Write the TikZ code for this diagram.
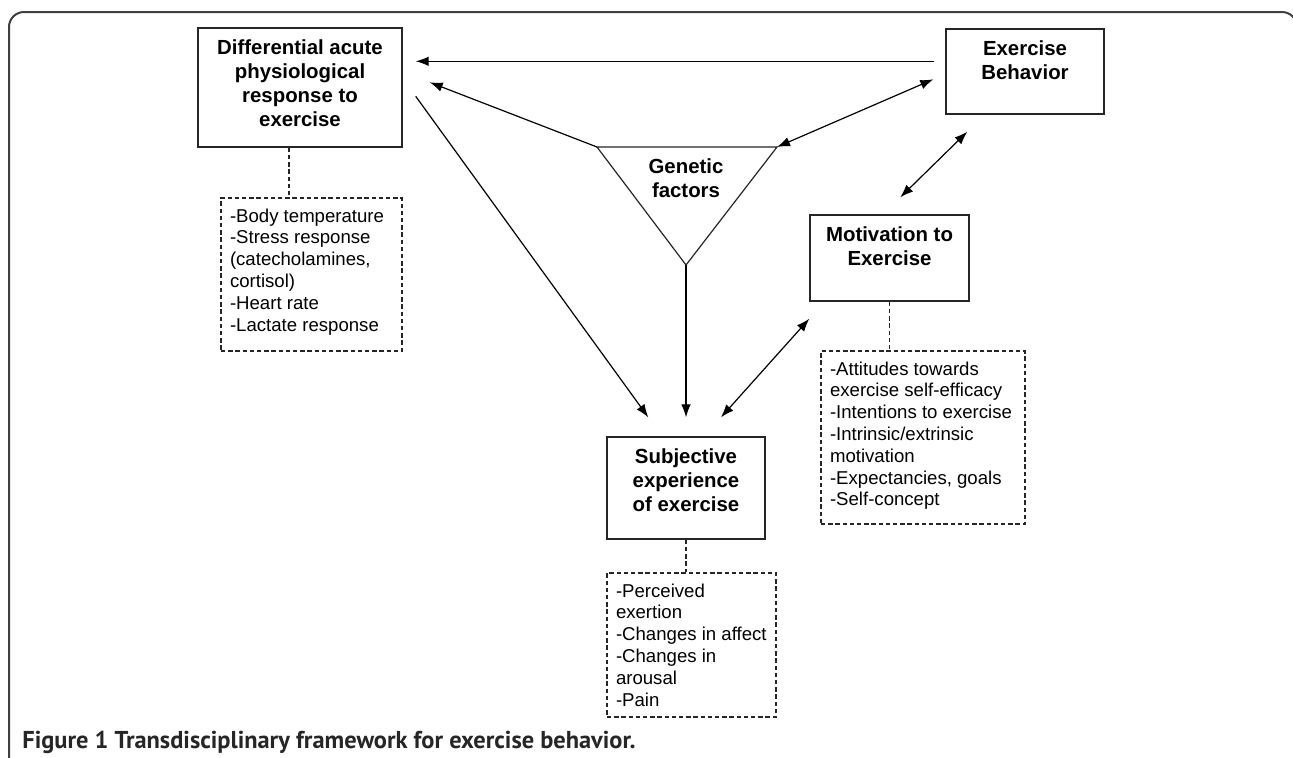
\documentclass[tikz,border=0pt]{standalone}
\usepackage{fontspec}
\setmainfont{Liberation Sans}
\newfontfamily\capfont{PT Sans}
\usetikzlibrary{arrows.meta,calc}

% text of the solid boxes sits at the top, the lists are flush left
\newcommand{\boxtext}[3]{\parbox[c][#2][t]{#1}{\centering\rule{0pt}{13.3pt}#3}}
\newcommand{\listtext}[3]{\parbox[c][#2][t]{#1}{\raggedright\leftskip=4.5pt\rule{0pt}{12pt}#3}}

\begin{document}
\begin{tikzpicture}[x=0.5pt,y=-0.5pt,
    factor/.style={draw=black!85, line width=0.7pt, inner sep=0pt, font=\bfseries\fontsize{10.2}{12}\selectfont},
    items/.style={draw=black!85, line width=0.6pt, dash pattern=on 2.2pt off 1.4pt, inner sep=0pt, font=\fontsize{9.3}{10.9}\selectfont},
    tie/.style={draw=black!85, line width=0.6pt, dash pattern=on 2.2pt off 1.4pt},
    link/.style={line width=0.6pt, -{Latex[length=6.5pt,width=4.8pt]}},
    twoway/.style={line width=0.6pt, {Latex[length=6.5pt,width=4.8pt]}-{Latex[length=6.5pt,width=4.8pt]}}]
  \useasboundingbox (0,0) rectangle (1293,757);
  \clip (0,0) rectangle (1293,757);
  \draw[black!75, line width=1pt, rounded corners=7.5pt] (9,800) -- (9,12) -- (1297,12) -- (1297,800);

  % boxes
  \node[factor] (phys) at (300,87.5) {\boxtext{102pt}{59.5pt}{Differential acute\\physiological\\response to\\exercise}};
  \node[factor] (beh) at (1025,71.5) {\boxtext{79pt}{42.5pt}{Exercise\\Behavior}};
  \node[factor] (motiv) at (889.5,258) {\boxtext{79.5pt}{43pt}{Motivation to\\Exercise}};
  \node[factor] (subj) at (686,488) {\boxtext{79pt}{51pt}{Subjective\\experience\\of exercise}};

  % genetic factors
  \coordinate (gl) at (597,147);
  \coordinate (gr) at (777,147);
  \coordinate (gb) at (686,265);
  \draw[black!85, line width=0.6pt] (gl) -- (gr) -- (gb) -- cycle;
  \node[font=\bfseries\fontsize{10.2}{12}\selectfont, align=center] (gene) at (686,178.5) {Genetic\\factors};

  % lists
  \node[items] (physlist) at (311.5,274.5) {\listtext{90.5pt}{76.5pt}{-Body temperature\\-Stress response\\(catecholamines,\\cortisol)\\-Heart rate\\-Lactate response}};
  \node[items] (motivlist) at (923,437.5) {\listtext{102pt}{86.5pt}{-Attitudes towards\\exercise self-efficacy\\-Intentions to exercise\\-Intrinsic/extrinsic\\motivation\\-Expectancies, goals\\-Self-concept}};
  \node[items] (subjlist) at (691.5,645) {\listtext{84.5pt}{72pt}{-Perceived\\exertion\\-Changes in affect\\-Changes in\\arousal\\-Pain}};

  \coordinate (physdrop) at ($(phys.south)+(-11,0)$);
  \draw[tie] (physdrop) -- (physdrop |- physlist.north);
  \draw[tie] (motiv.south) -- (motiv.south |- motivlist.north);
  \draw[tie] (subj.south) -- (subj.south |- subjlist.north);

  % arrows
  \draw[link] ($(beh.north west)+(-11,33)$) -- ($(phys.north east)+(13,34)$);
  \draw[link] (gl) -- ($(phys.north east)+(27,55)$);
  \draw[link] ($(phys.north east)+(13,69)$) -- ($(subj.north west)+(42,-19)$);
  \draw[link] (gb) -- ($(subj.north)+(0,-19)$);
  \draw[twoway] ($(subj.north)+(35,-19)$) -- ($(motiv.south west)+(0,17)$);
  \draw[twoway] (gr) -- ($(beh.north west)+(-12,51)$);
  \draw[twoway] ($(beh.south west)+(22,17)$) -- ($(motiv.north west)+(91,-17)$);

  \node[anchor=base west, inner sep=0pt, text=black!85, font=\capfont\bfseries\fontsize{12.2}{13}\selectfont] (caption) at (22,748) {Figure 1 Transdisciplinary framework for exercise behavior.};
\end{tikzpicture}
\end{document}
